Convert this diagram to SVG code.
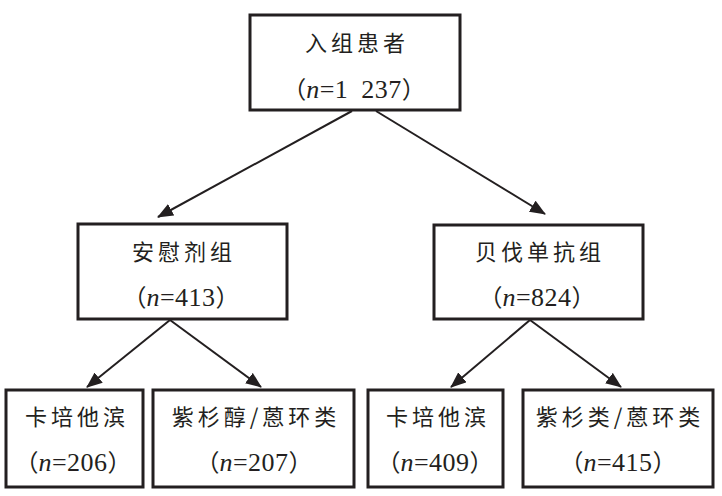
<svg xmlns="http://www.w3.org/2000/svg" width="722" height="496" viewBox="0 0 722 496">
<defs>
<style>
.box{fill:#fff;stroke:#231f20;stroke-width:3}
.cn{font-family:"Noto Sans CJK SC","Noto Sans",sans-serif;font-size:22px;fill:#231f20;text-anchor:middle;letter-spacing:4px}
.num{font-family:"Liberation Serif","Noto Sans CJK SC",serif;font-size:26px;fill:#231f20;text-anchor:middle;letter-spacing:0.5px}
.p{font-family:"Noto Sans CJK SC",sans-serif;font-size:24px;letter-spacing:0}
.it{font-style:italic}
.ln{stroke:#231f20;stroke-width:2;fill:none;marker-end:url(#ah)}
</style>
<marker id="ah" markerWidth="16" markerHeight="13" refX="15" refY="6.5" orient="auto" markerUnits="userSpaceOnUse">
<path d="M0,0 L16,6.5 L0,13 Z" fill="#231f20"/>
</marker>
</defs>
<rect width="722" height="496" fill="#fff"/>
<g id="connectors">
<line class="ln" x1="352" y1="111" x2="158" y2="217"/>
<line class="ln" x1="376" y1="111" x2="545" y2="214"/>
<line class="ln" x1="170" y1="320" x2="87" y2="387"/>
<line class="ln" x1="170" y1="320" x2="261" y2="387"/>
<line class="ln" x1="530" y1="320" x2="451" y2="387"/>
<line class="ln" x1="530" y1="320" x2="621" y2="387"/>
</g>
<g id="n1">
<rect class="box" x="250" y="15" width="210" height="95"/>
<text class="cn" x="357" y="51">入组患者</text>
<text class="num" x="354" y="98"><tspan class="p">（</tspan><tspan class="it">n</tspan>=1 <tspan dx="6">237</tspan><tspan class="p">）</tspan></text>
</g>
<g id="n2">
<rect class="box" x="78" y="224" width="209" height="95"/>
<text class="cn" x="184" y="260">安慰剂组</text>
<text class="num" x="181" y="306"><tspan class="p">（</tspan><tspan class="it">n</tspan>=413<tspan class="p">）</tspan></text>
</g>
<g id="n3">
<rect class="box" x="434" y="225" width="209" height="94"/>
<text class="cn" x="540" y="260">贝伐单抗组</text>
<text class="num" x="537" y="306"><tspan class="p">（</tspan><tspan class="it">n</tspan>=824<tspan class="p">）</tspan></text>
</g>
<g id="n4">
<rect class="box" x="6" y="390" width="137" height="97"/>
<text class="cn" x="77" y="425">卡培他滨</text>
<text class="num" x="73" y="471"><tspan class="p">（</tspan><tspan class="it">n</tspan>=206<tspan class="p">）</tspan></text>
</g>
<g id="n5">
<rect class="box" x="153" y="390" width="201" height="97"/>
<text class="cn" x="256" y="425">紫杉醇/蒽环类</text>
<text class="num" x="254" y="471"><tspan class="p">（</tspan><tspan class="it">n</tspan>=207<tspan class="p">）</tspan></text>
</g>
<g id="n6">
<rect class="box" x="368" y="390" width="135" height="97"/>
<text class="cn" x="438" y="425">卡培他滨</text>
<text class="num" x="435" y="471"><tspan class="p">（</tspan><tspan class="it">n</tspan>=409<tspan class="p">）</tspan></text>
</g>
<g id="n7">
<rect class="box" x="523" y="390" width="190" height="97"/>
<text class="cn" x="620" y="425">紫杉类/蒽环类</text>
<text class="num" x="618" y="471"><tspan class="p">（</tspan><tspan class="it">n</tspan>=415<tspan class="p">）</tspan></text>
</g>
</svg>
